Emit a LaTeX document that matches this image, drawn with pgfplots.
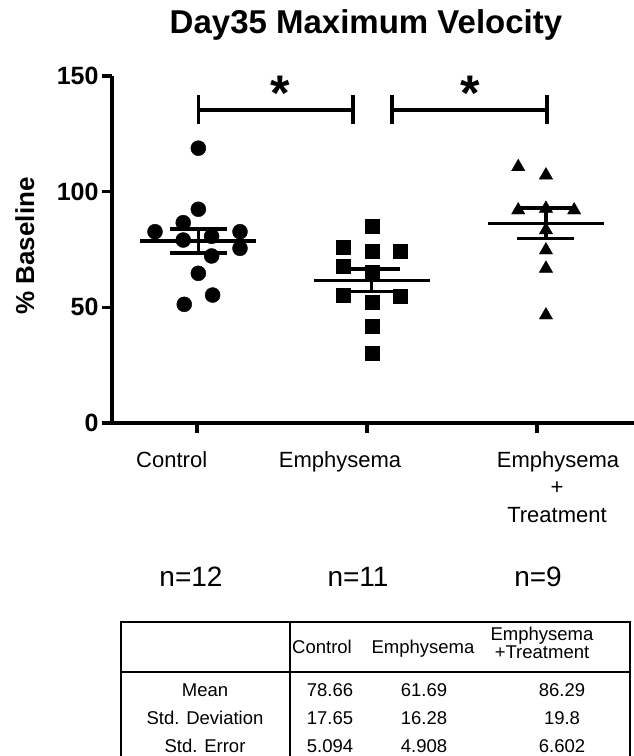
\documentclass[border=0pt]{standalone}
\usepackage{fontspec}
\setmainfont{Liberation Sans}
\usepackage{pgfplots}
\pgfplotsset{compat=1.18}
\begin{document}
\begin{tikzpicture}
\path[use as bounding box] (0pt,0pt) rectangle (634pt,756pt);
\begin{axis}[
  at={(112pt,333pt)}, anchor=south west,
  scale only axis, width=522pt, height=347pt,
  xmin=0.5, xmax=3.571, ymin=0, ymax=150,
  axis x line=bottom, axis y line=left,
  axis line style={line width=3.5pt, -},
  xtick={1,2,3}, xticklabels={},
  ytick={0,50,100,150},
  tick style={line width=3.5pt, black},
  tick align=outside, major tick length=10pt,
  yticklabel style={font=\fontsize{25}{25}\selectfont\bfseries},
  /pgf/number format/assume math mode=true,
  clip=false,
]
% Control
\addplot[only marks, mark=*, mark size=7.5pt, black, mark options={fill=black}] coordinates {
(1.008,118.8) (1.008,92.4) (0.919,86.6) (0.753,82.7) (0.919,79.1) (1.253,82.7)
(1.253,75.5) (1.086,80.7) (1.086,72.2) (1.008,64.7) (1.092,55.3) (0.925,51.3)};
% Emphysema
\addplot[only marks, mark=square*, mark size=7pt, black, mark options={fill=black}] coordinates {
(2.028,84.9) (1.861,75.8) (2.028,74.1) (2.194,74.1) (1.861,67.9) (2.028,65.4)
(1.861,55.3) (2.028,52.4) (2.194,54.6) (2.028,41.9) (2.028,30.1)};
% Emphysema + Treatment
\addplot[only marks, mark=triangle*, mark size=7.7pt, black, mark options={fill=black}] coordinates {
(2.890,110.7) (3.053,107.1) (2.890,92.0) (3.053,92.7) (3.219,92.0) (3.053,83.4)
(3.053,74.7) (3.053,66.8) (3.053,46.6)};
% means
\addplot[line width=3.5pt, black] coordinates {(0.667,78.66) (1.349,78.66)};
\addplot[line width=3.5pt, black] coordinates {(1.687,61.69) (2.369,61.69)};
\addplot[line width=3.5pt, black] coordinates {(2.712,86.29) (3.394,86.29)};
% SEM
\addplot[black, only marks, mark=none,
  error bars/.cd, y dir=both, y explicit, error mark=|,
  error bar style={line width=3.5pt, black},
  error mark options={line width=3.5pt, mark size=28.5pt, black}]
  coordinates {(1.008,78.66) +- (0,5.094) (2.028,61.69) +- (0,4.908) (3.053,86.29) +- (0,6.602)};
% significance brackets
\addplot[line width=3.5pt, black] coordinates {(1.008,135.3) (1.918,135.3)};
\addplot[line width=3.5pt, black] coordinates {(1.008,129.3) (1.008,141.8)};
\addplot[line width=3.5pt, black] coordinates {(1.918,129.3) (1.918,141.8)};
\addplot[line width=3.5pt, black] coordinates {(2.147,135.3) (3.059,135.3)};
\addplot[line width=3.5pt, black] coordinates {(2.147,129.3) (2.147,141.8)};
\addplot[line width=3.5pt, black] coordinates {(3.059,129.3) (3.059,141.8)};
\node[font=\fontsize{50}{50}\selectfont\bfseries, anchor=base] at (axis cs:1.488,135.2) {*};
\node[font=\fontsize{50}{50}\selectfont\bfseries, anchor=base] at (axis cs:2.606,135.2) {*};
\draw[line width=3.5pt] (axis cs:0.44,0) -- (axis cs:0.5,0);
\end{axis}
% title
\node[anchor=base] at (366pt,722.5pt) {\fontsize{33}{33}\selectfont\bfseries Day35 Maximum Velocity};
% y label
\node[rotate=90, anchor=base] at (34pt,510pt) {\fontsize{26}{26}\selectfont\bfseries \% Baseline};
% category labels
\node[anchor=base] at (171.7pt,288pt) {\fontsize{22}{27.5}\selectfont Control};
\node[anchor=base] at (340pt,288pt) {\fontsize{22}{27.5}\selectfont Emphysema};
\node[anchor=base] at (558pt,288pt) {\fontsize{22}{27.5}\selectfont Emphysema};
\node[anchor=base] at (557pt,261pt) {\fontsize{22}{27.5}\selectfont +};
\node[anchor=base] at (557pt,233pt) {\fontsize{22}{27.5}\selectfont Treatment};
% n labels
\node[anchor=base] at (191pt,169pt) {\fontsize{28}{28}\selectfont n=12};
\node[anchor=base] at (358pt,169pt) {\fontsize{28}{28}\selectfont n=11};
\node[anchor=base] at (538pt,169pt) {\fontsize{28}{28}\selectfont n=9};
% table
\draw[line width=1.3pt] (121pt,0pt) -- (121pt,134pt) -- (630pt,134pt) -- (630pt,0pt);
\draw[line width=1.3pt] (121pt,84pt) -- (630pt,84pt);
\draw[line width=1.3pt] (290pt,0pt) -- (290pt,134pt);
\begin{scope}[every node/.style={anchor=base, font=\fontsize{18.5}{18.5}\selectfont}]
\node at (322pt,102.5pt) {Control};
\node at (423pt,102.5pt) {Emphysema};
\node at (542pt,115pt) {Emphysema};
\node at (542pt,97pt) {+Treatment};
\node at (205pt,59pt) {Mean};
\node at (205pt,31pt) {Std. Deviation};
\node at (205pt,3pt) {Std. Error};
\node at (330pt,59pt) {78.66};
\node at (424pt,59pt) {61.69};
\node at (562pt,59pt) {86.29};
\node at (330pt,31pt) {17.65};
\node at (424pt,31pt) {16.28};
\node at (562pt,31pt) {19.8};
\node at (330pt,3pt) {5.094};
\node at (424pt,3pt) {4.908};
\node at (562pt,3pt) {6.602};
\end{scope}
\end{tikzpicture}
\end{document}
